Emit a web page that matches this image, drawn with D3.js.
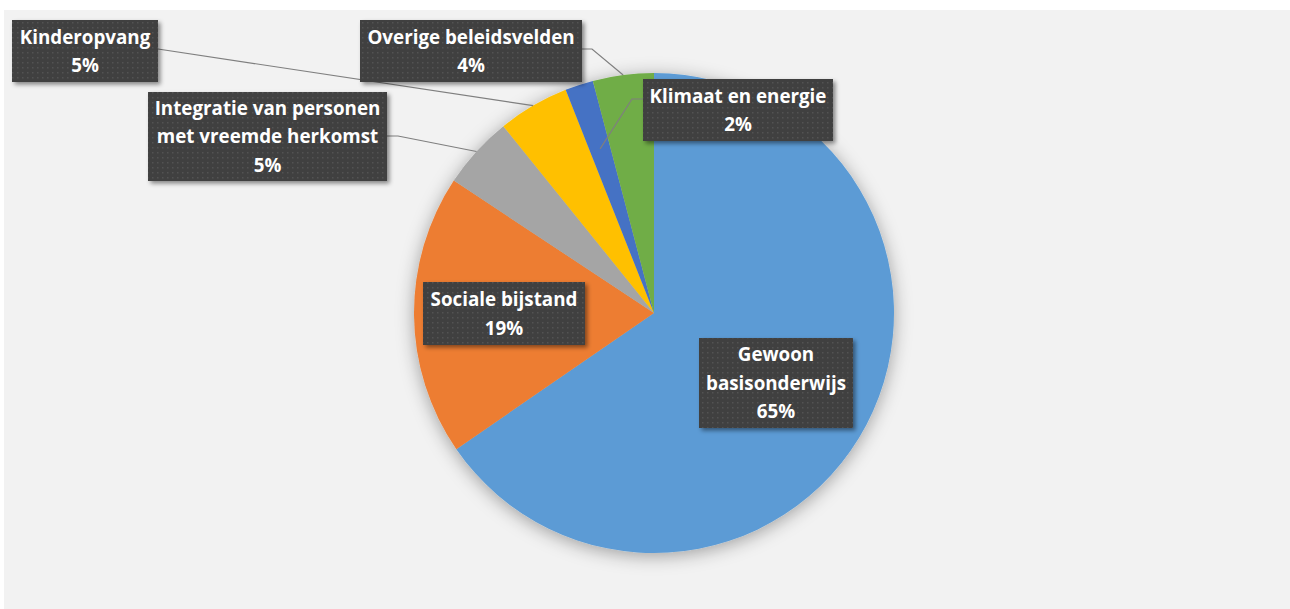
<!DOCTYPE html>
<html>
<head>
<meta charset="utf-8">
<script src="https://cdn.jsdelivr.net/npm/d3@7"></script>
<style>
  html, body { margin: 0; padding: 0; background: #ffffff; }
  svg { display: block; }
</style>
</head>
<body>
<svg id="chart" width="1290" height="609"></svg>
<script>
// ---- data ----
const categories = ["Gewoon basisonderwijs", "Sociale bijstand", "Integratie van personen met vreemde herkomst", "Kinderopvang", "Klimaat en energie", "Overige beleidsvelden"];
const values = [65.4, 18.9, 4.9, 4.8, 1.9, 4.1];
const colors = ["#5B9BD5", "#ED7D31", "#A5A5A5", "#FFC000", "#4472C4", "#70AD47"];
const labelLines = [
  ["Gewoon", "basisonderwijs"],
  ["Sociale bijstand"],
  ["Integratie van personen", "met vreemde herkomst"],
  ["Kinderopvang"],
  ["Klimaat en energie"],
  ["Overige beleidsvelden"]
];

// ---- layout ----
const W = 1290, H = 609;
const cx = 654, cy = 313, R = 240;
// label boxes: [x, y, w, h]
const boxes = [
  [699, 338, 154, 90],
  [423, 282, 162, 63],
  [148, 92, 239, 89],
  [12, 20, 146, 62],
  [643, 79, 190, 62],
  [360, 20, 222, 62]
];
// leader lines: start point on box, optional elbow, end radius factor (null => no line)
const leaders = [
  null,
  null,
  {start: [387, 136], elbow: [398, 136], rf: 1.0},
  {start: [158, 49], elbow: null, rf: 1.0},
  {start: [643, 99], elbow: [632, 99], rf: 0.72},
  {start: [582, 49], elbow: [592, 49], rf: 1.0}
];

const svg = d3.select("#chart");
const defs = svg.append("defs");

// pie shadow
const f1 = defs.append("filter").attr("id", "pieShadow")
  .attr("x", "-20%").attr("y", "-20%").attr("width", "140%").attr("height", "140%");
f1.append("feDropShadow").attr("dx", 0).attr("dy", 3).attr("stdDeviation", 9)
  .attr("flood-color", "#000").attr("flood-opacity", 0.35);

// label shadow
const f2 = defs.append("filter").attr("id", "boxShadow")
  .attr("x", "-10%").attr("y", "-20%").attr("width", "125%").attr("height", "150%");
f2.append("feDropShadow").attr("dx", 2.5).attr("dy", 2.5).attr("stdDeviation", 2)
  .attr("flood-color", "#000").attr("flood-opacity", 0.45);

// dotted pattern
const pat = defs.append("pattern").attr("id", "dots")
  .attr("patternUnits", "userSpaceOnUse").attr("width", 5).attr("height", 5);
pat.append("rect").attr("width", 5).attr("height", 5).attr("fill", "#3f3f3f");
pat.append("rect").attr("x", 2).attr("y", 2).attr("width", 1.5).attr("height", 1.5).attr("fill", "#525252");

// background
svg.append("rect").attr("x", 0).attr("y", 0).attr("width", W).attr("height", H).attr("fill", "#ffffff");
svg.append("rect").attr("x", 4).attr("y", 10).attr("width", W - 4).attr("height", H - 10).attr("fill", "#f2f2f2");

const total = d3.sum(values);
const pie = d3.pie().sort(null).value(d => d)(values);
const arc = d3.arc().innerRadius(0).outerRadius(R);

const g = svg.append("g").attr("transform", `translate(${cx},${cy})`);
g.append("g").attr("filter", "url(#pieShadow)")
  .selectAll("path").data(pie).join("path")
  .attr("d", arc)
  .attr("fill", (d, i) => colors[i]);

// leader lines
const lineG = svg.append("g");
pie.forEach((d, i) => {
  const L = leaders[i];
  if (!L) return;
  const a = (d.startAngle + d.endAngle) / 2;
  const r = R * L.rf;
  const end = [cx + r * Math.sin(a), cy - r * Math.cos(a)];
  const pts = [L.start];
  if (L.elbow) pts.push(L.elbow);
  pts.push(end);
  lineG.append("path")
    .attr("d", d3.line()(pts))
    .attr("fill", "none")
    .attr("stroke", "#7f7f7f")
    .attr("stroke-width", 1.2);
});

// labels
const lblG = svg.append("g");
pie.forEach((d, i) => {
  const [bx, by, bw, bh] = boxes[i];
  lblG.append("rect").attr("x", bx).attr("y", by).attr("width", bw).attr("height", bh)
    .attr("fill", "url(#dots)").attr("filter", "url(#boxShadow)");
  const lines = labelLines[i].concat([Math.round(values[i] / total * 100) + "%"]);
  const lh = 28.5;
  const startY = by + bh / 2 - (lines.length - 1) * lh / 2;
  const t = lblG.append("text")
    .attr("text-anchor", "middle")
    .attr("font-family", "'Open Sans', Lato, sans-serif")
    .attr("font-weight", "bold")
    .attr("font-size", 18.8)
    .attr("fill", "#ffffff");
  lines.forEach((s, k) => {
    t.append("tspan").attr("x", bx + bw / 2).attr("y", startY + k * lh)
      .attr("dy", "0.36em").text(s);
  });
});
</script>
</body>
</html>
